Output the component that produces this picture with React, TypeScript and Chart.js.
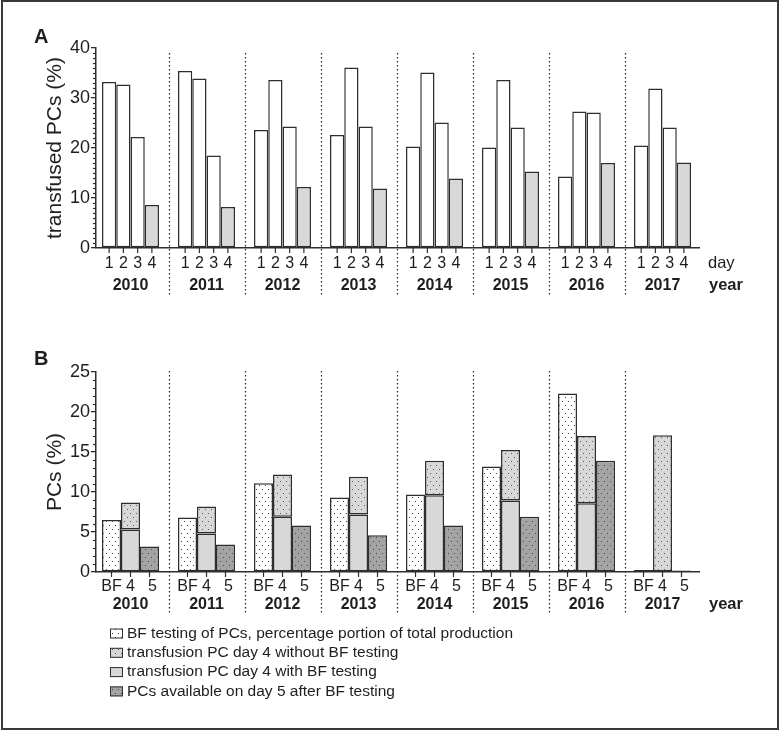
import React, { useEffect, useRef } from 'react';
import { Chart, registerables } from 'chart.js';
Chart.register(...registerables);

// ---------- data ----------
const years = ['2010', '2011', '2012', '2013', '2014', '2015', '2016', '2017'];
const dayLabels = ['1', '2', '3', '4'];
const day1 = [33.2, 35.4, 23.6, 22.6, 20.3, 20.1, 14.3, 20.5];
const day2 = [32.7, 33.9, 33.6, 36.1, 35.1, 33.6, 27.3, 31.9];
const day3 = [22.2, 18.5, 24.3, 24.3, 25.1, 24.1, 27.1, 24.1];
const day4 = [8.6, 8.2, 12.2, 11.9, 13.9, 15.3, 17.0, 17.1];

const bTickLabels = ['BF', '4', '5'];
const bfTesting = [6.5, 6.8, 11.1, 9.3, 9.7, 13.2, 22.3, 0.25];
const day4WithBF = [5.3, 4.8, 6.9, 7.2, 9.6, 8.95, 8.6, 0];
const day4WithoutBF = [3.4, 3.4, 5.3, 4.7, 4.3, 6.3, 8.4, 17.1];
const day5AfterBF = [3.2, 3.45, 5.8, 4.6, 5.8, 6.9, 13.9, 0.2];

const legendLabels = [
  'BF testing of PCs, percentage portion of total production',
  'transfusion PC day 4 without BF testing',
  'transfusion PC day 4 with BF testing',
  'PCs available on day 5 after BF testing',
];

const yTicksA = { max: 40, step: 10, minor: 1 };
const yTicksB = { max: 25, step: 5, minor: 1 };

// ---------- styles ----------
const FONT = '"Liberation Sans", Arial, Helvetica, sans-serif';
const INK = '#1e1e1e';
const EDGE = '#2e2e2e';
const LIGHT = '#d8d8d8';

function makeDots(bg: string, dot: string) {
  const c = document.createElement('canvas');
  c.width = 6;
  c.height = 8;
  const g = c.getContext('2d')!;
  g.fillStyle = bg;
  g.fillRect(0, 0, 6, 8);
  g.fillStyle = dot;
  g.fillRect(1, 1, 1, 1);
  g.fillRect(4, 5, 1, 1);
  return g.createPattern(c, 'repeat')!;
}

function line(ctx: CanvasRenderingContext2D, x1: number, y1: number, x2: number, y2: number) {
  ctx.beginPath();
  ctx.moveTo(x1, y1);
  ctx.lineTo(x2, y2);
  ctx.stroke();
}

function drawCommon(chart: any, cfg: any) {
  const { ctx, chartArea: ca, scales } = chart;
  const x = scales.x;
  const y = scales.y;
  ctx.save();
  ctx.strokeStyle = EDGE;
  ctx.lineWidth = 1.2;
  // minor y ticks
  for (let v = 0; v <= cfg.yt.max; v += cfg.yt.minor) {
    if (v % cfg.yt.step === 0) continue;
    const py = Math.round(y.getPixelForValue(v)) + 0.5;
    line(ctx, ca.left - 3, py, ca.left, py);
  }
  // bar ticks + labels
  ctx.fillStyle = INK;
  ctx.font = `16px ${FONT}`;
  ctx.textAlign = 'center';
  ctx.textBaseline = 'middle';
  cfg.tickSets.forEach((t: any) => {
    const meta = chart.getDatasetMeta(t.ds);
    meta.data.forEach((el: any) => {
      line(ctx, el.x, ca.bottom, el.x, ca.bottom + 5);
      ctx.fillText(t.label, el.x + (t.dx || 0), ca.bottom + cfg.tickRow);
    });
  });
  // year labels
  ctx.font = `bold 16px ${FONT}`;
  years.forEach((yr, i) => {
    ctx.fillText(yr, x.getPixelForValue(i), ca.bottom + cfg.yearRow);
  });
  // separators
  ctx.setLineDash([1.4, 2.6]);
  ctx.lineWidth = 1.3;
  for (let i = 0; i < years.length - 1; i++) {
    const px = Math.round(x.getPixelForValue(i + 0.5)) + 0.5;
    line(ctx, px, ca.top + cfg.dotTop, px, ca.bottom + cfg.dotBottom);
  }
  ctx.setLineDash([]);
  // axis name labels on the right
  ctx.textAlign = 'left';
  if (cfg.dayLabel) {
    ctx.font = `16.5px ${FONT}`;
    ctx.fillText('day', ca.right + 9, ca.bottom + cfg.tickRow);
  }
  ctx.font = `bold 16.5px ${FONT}`;
  ctx.fillText('year', ca.right + 10, ca.bottom + cfg.yearRow);
  // panel letter
  ctx.font = `bold 20px ${FONT}`;
  ctx.fillText(cfg.letter, 34, cfg.letterY);
  ctx.restore();
}

function yScale(yt: any, title: string) {
  return {
    min: 0,
    max: yt.max,
    ticks: { stepSize: yt.step, color: INK, font: { size: 18, family: FONT }, padding: 1 },
    grid: { display: true, drawOnChartArea: false, drawTicks: true, tickLength: 5, color: EDGE, lineWidth: 1.3 },
    border: { display: true, color: EDGE, width: 1.5 },
    title: { display: true, text: title, color: INK, font: { size: 21, family: FONT }, padding: { top: 43, bottom: 0 } },
    afterFit: (s: any) => { s.width = 96; },
  };
}

function xScale(h: number) {
  return {
    type: 'linear' as const,
    min: -0.454,
    max: 7.48,
    offset: false,
    bounds: 'data' as const,
    grid: { display: false, offset: false },
    ticks: { display: false },
    border: { display: true, color: EDGE, width: 1.5 },
    afterFit: (s: any) => { s.height = h; },
  };
}

const pts = (arr: number[]) => arr.map((v, i) => ({ x: i, y: v }));

export default function App() {
  const refA = useRef<HTMLCanvasElement>(null);
  const refB = useRef<HTMLCanvasElement>(null);

  useEffect(() => {
    const patBF = makeDots('#ffffff', '#3a3a3a');
    const patLight = makeDots(LIGHT, '#5a5a5a');
    const patDark = makeDots('#a3a3a3', '#4a4a4a');

    const barBase = { borderColor: EDGE, borderWidth: 1.5, borderSkipped: false as const, categoryPercentage: 0.803, barPercentage: 1 };

    const chartA = new Chart(refA.current!, {
      type: 'bar',
      data: {
        datasets: [day1, day2, day3, day4].map((arr, k) => ({
          ...barBase,
          label: 'day ' + dayLabels[k],
          data: pts(arr),
          backgroundColor: k < 3 ? '#ffffff' : LIGHT,
        })),
      },
      options: {
        animation: false,
        responsive: false,
        maintainAspectRatio: false,
        layout: { padding: { left: 0, top: 48, right: 80, bottom: 0 } },
        plugins: { legend: { display: false }, tooltip: { enabled: false } },
        scales: { x: xScale(52) as any, y: yScale(yTicksA, 'transfused PCs (%)') as any },
      },
      plugins: [{
        id: 'decoA',
        afterDraw: (c: any) => drawCommon(c, {
          yt: yTicksA,
          tickSets: [0, 1, 2, 3].map((k) => ({ ds: k, label: dayLabels[k] })),
          tickRow: 15.5, yearRow: 37.5, dotTop: 5, dotBottom: 47,
          dayLabel: true, letter: 'A', letterY: 37,
        }),
      }],
    });

    const bPatterns = [patBF, patLight, LIGHT, patDark];
    const chartB = new Chart(refB.current!, {
      type: 'bar',
      data: {
        datasets: [
          { ...barBase, label: legendLabels[0], data: pts(bfTesting), backgroundColor: patBF, stack: 'bf' },
          { ...barBase, label: legendLabels[2], data: pts(day4WithBF), backgroundColor: LIGHT, stack: 'd4' },
          { ...barBase, label: legendLabels[1], data: pts(day4WithoutBF), backgroundColor: patLight, stack: 'd4' },
          { ...barBase, label: legendLabels[3], data: pts(day5AfterBF), backgroundColor: patDark, stack: 'd5' },
        ] as any,
      },
      options: {
        animation: false,
        responsive: false,
        maintainAspectRatio: false,
        layout: { padding: { left: 0, top: 72, right: 80, bottom: 0 } },
        plugins: { legend: { display: false }, tooltip: { enabled: false } },
        scales: {
          x: xScale(158) as any,
          y: { ...yScale(yTicksB, 'PCs (%)'), stacked: true } as any,
        },
      },
      plugins: [{
        id: 'decoB',
        afterDraw: (c: any) => {
          drawCommon(c, {
            yt: yTicksB,
            tickSets: [{ ds: 0, label: bTickLabels[0] }, { ds: 1, label: bTickLabels[1] }, { ds: 3, label: bTickLabels[2], dx: 3 }],
            tickRow: 15, yearRow: 32.5, dotTop: -1, dotBottom: 41,
            dayLabel: false, letter: 'B', letterY: 59,
          });
          const ctx = c.ctx as CanvasRenderingContext2D;
          ctx.save();
          ctx.font = `15.5px ${FONT}`;
          ctx.textAlign = 'left';
          ctx.textBaseline = 'middle';
          legendLabels.forEach((txt, i) => {
            const cy = 333.5 + i * 19.3;
            ctx.fillStyle = bPatterns[i] as any;
            ctx.fillRect(110, cy - 5, 13, 10);
            ctx.strokeStyle = EDGE;
            ctx.lineWidth = 1;
            ctx.strokeRect(110.5, cy - 4.5, 12, 9);
            ctx.fillStyle = INK;
            ctx.fillText(txt, 127, cy);
          });
          ctx.restore();
        },
      }],
    });

    return () => {
      chartA.destroy();
      chartB.destroy();
    };
  }, []);

  return (
    <div style={{ position: 'fixed', left: 0, top: 0, width: 779, height: 730, background: '#fff', overflow: 'hidden' }}>
      <canvas ref={refA} width={779} height={300} style={{ position: 'absolute', left: 0, top: 0, width: 779, height: 300 }} />
      <canvas ref={refB} width={779} height={430} style={{ position: 'absolute', left: 0, top: 300, width: 779, height: 430 }} />
      <div style={{ position: 'absolute', left: 1, top: 0, width: 774, height: 726, border: '2px solid #3a3a3a', pointerEvents: 'none' }} />
    </div>
  );
}
